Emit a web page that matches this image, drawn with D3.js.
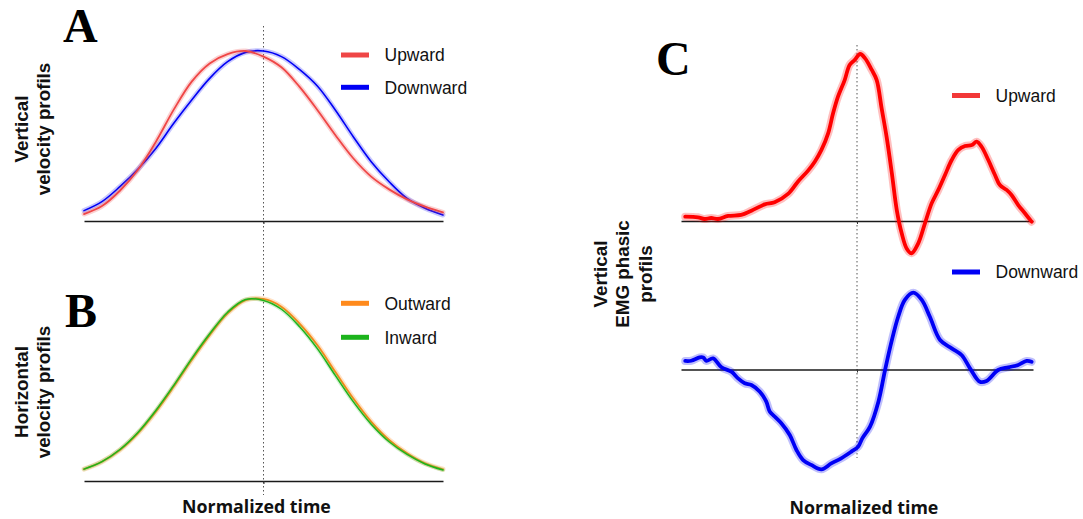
<!DOCTYPE html>
<html><head><meta charset="utf-8">
<script src="https://cdn.jsdelivr.net/npm/d3@7/dist/d3.min.js"></script>
<style>html,body{margin:0;background:#fff}svg{display:block}</style>
</head><body>
<svg id="chart" width="1083" height="519"></svg>
<script>
// ---------- DATA (normalized time 0..100, normalized amplitude) ----------
const timeAB = [0,5,10,15,20,25,30,35,40,45,50,55,60,65,70,75,80,85,90,95,100];
const upwardA   = [0.041,0.088,0.178,0.30,0.465,0.655,0.82,0.927,0.982,1.0,0.967,0.904,0.79,0.653,0.506,0.369,0.261,0.186,0.127,0.084,0.051];
const downwardA = [0.061,0.114,0.202,0.304,0.427,0.575,0.712,0.839,0.937,0.992,1.0,0.967,0.892,0.794,0.653,0.496,0.349,0.231,0.133,0.075,0.035];
const outwardB  = [0.065,0.105,0.169,0.26,0.378,0.515,0.66,0.796,0.915,0.987,0.993,0.951,0.86,0.742,0.596,0.451,0.324,0.224,0.151,0.096,0.064];
const inwardB   = [0.065,0.106,0.172,0.265,0.385,0.522,0.668,0.803,0.921,0.99,0.985,0.937,0.843,0.722,0.576,0.433,0.31,0.214,0.145,0.093,0.06];

const timeUpC = [1.2,4.8,6.7,8.6,10.5,13.4,17.1,20.0,23.8,26.6,30.4,33.2,36.1,38.0,39.9,41.8,43.2,44.6,46.5,47.9,49.3,50.9,52.3,54.2,55.6,57.0,58.4,59.9,61.3,62.7,64.1,65.5,67.4,69.3,71.2,73.1,75.0,76.9,78.8,80.7,82.6,84.0,85.4,87.3,89.2,90.6,92.5,93.9,95.8,97.7,99.6];
const upwardC = [0.026,0.022,0.012,0.018,0.012,0.030,0.036,0.061,0.099,0.111,0.161,0.234,0.300,0.353,0.423,0.522,0.641,0.740,0.839,0.929,0.958,0.994,0.968,0.899,0.839,0.670,0.502,0.284,0.065,-0.073,-0.163,-0.192,-0.133,-0.014,0.105,0.185,0.274,0.363,0.423,0.446,0.452,0.472,0.442,0.363,0.274,0.214,0.185,0.155,0.095,0.046,-0.004];

const timeDownC = [1.2,2.9,5.3,6.3,7.2,9.1,11.5,14.3,16.2,18.1,20.0,22.4,24.2,25.2,26.6,28.5,30.9,32.8,34.7,37.0,39.9,42.7,45.5,48.4,50.3,51.5,53.7,56.1,58.0,59.8,61.7,63.6,66.0,68.4,70.7,73.6,76.9,79.7,82.1,84.9,86.8,90.1,93.0,95.8,98.2,99.6];
const downwardC = [0.051,0.052,0.072,0.072,0.051,0.066,0.013,-0.013,-0.053,-0.082,-0.092,-0.132,-0.19,-0.25,-0.28,-0.32,-0.39,-0.479,-0.539,-0.568,-0.594,-0.559,-0.529,-0.489,-0.46,-0.41,-0.34,-0.19,0.0,0.166,0.314,0.414,0.457,0.414,0.314,0.176,0.126,0.086,0.007,-0.073,-0.068,-0.003,0.013,0.027,0.051,0.046];

const legendA = ["Upward","Downward"];
const legendB = ["Outward","Inward"];
const panelLetters = ["A","B","C"];
const xLabel = "Normalized time";
const yLabelA = ["Vertical","velocity profils"];
const yLabelB = ["Horizontal","velocity profils"];
const yLabelC = ["Vertical","EMG phasic","profils"];

// ---------- STYLE ----------
const RED_A = "#ef4646", BLUE = "#0000f5", ORANGE = "#ff8a1c", GREEN = "#1cb41c", RED_C = "#ff0000";
const svg = d3.select("#chart");
svg.append("rect").attr("width",1083).attr("height",519).attr("fill","#fff");

const xAB = d3.scaleLinear().domain([0,100]).range([84,443]);
const yA  = d3.scaleLinear().domain([0,1]).range([221,51]);
const yB  = d3.scaleLinear().domain([0,1]).range([481,297.7]);
const xC  = d3.scaleLinear().domain([0,100]).range([681,1033]);
const yCu = d3.scaleLinear().domain([0,1]).range([221,53]);
const yCd = d3.scaleLinear().domain([0,1]).range([369.5,201.5]);

function axis(x, y, yPos){
  const g = svg.append("g").attr("transform",`translate(0,${yPos})`)
    .call(d3.axisBottom(x).tickValues([50]).tickSize(3).tickSizeOuter(0).tickFormat(""));
  g.select(".domain").attr("stroke","#1a1a1a").attr("stroke-width",1.7);
  g.selectAll(".tick line").attr("stroke","#333").attr("stroke-width",1);
}
function series(xs, ys, x, y, color, w, bandW, bandOp, curve){
  const data = xs.map((t,i)=>[t,ys[i]]);
  const line = d3.line().x(d=>x(d[0])).y(d=>y(d[1])).curve(curve);
  svg.append("path").attr("d",line(data)).attr("fill","none").attr("stroke",color)
    .attr("stroke-width",bandW).attr("stroke-opacity",bandOp).attr("stroke-linejoin","round").attr("stroke-linecap","round");
  svg.append("path").attr("d",line(data)).attr("fill","none").attr("stroke",color)
    .attr("stroke-width",w).attr("stroke-linejoin","round").attr("stroke-linecap","round");
}
function dotted(x, y0, y1){
  svg.append("line").attr("x1",x).attr("x2",x).attr("y1",y0).attr("y2",y1)
    .attr("stroke","#555").attr("stroke-width",1).attr("stroke-dasharray","1.5,2.5");
}
function legendItem(x0, y0, color, text){
  svg.append("line").attr("x1",x0).attr("x2",x0+28).attr("y1",y0).attr("y2",y0)
    .attr("stroke",color).attr("stroke-width",5);
  svg.append("text").attr("x",x0+43.5).attr("y",y0+6.3).text(text)
    .attr("font-family","'Liberation Sans',Arial,sans-serif").attr("font-size",17.5).attr("fill","#111");
}
function yLabel(lines, baselines, cy){
  lines.forEach((s,i)=>{
    svg.append("text").attr("transform",`translate(${baselines[i]},${cy}) rotate(-90)`)
      .attr("text-anchor","middle").attr("font-family","'Liberation Sans',Arial,sans-serif")
      .attr("font-weight","bold").attr("font-size",18.8).attr("fill","#111").text(s);
  });
}
function letter(s, x, y){
  svg.append("text").attr("x",x).attr("y",y).text(s)
    .attr("font-family","'Liberation Serif','Times New Roman',serif").attr("font-weight","bold")
    .attr("font-size",48).attr("fill","#000");
}
function xTitle(cx, y){
  svg.append("text").attr("x",cx).attr("y",y).attr("text-anchor","middle").text(xLabel)
    .attr("font-family","'Open Sans',sans-serif").attr("font-weight","bold").attr("font-size",17.8).attr("fill","#111");
}

// dotted reference lines
dotted(xAB(50), 26, 495);
dotted(xC(50), 45, 458);

// Panel A
axis(xAB, yA, 221);
series(timeAB, downwardA, xAB, yA, BLUE, 1.6, 5, 0.22, d3.curveCatmullRom);
series(timeAB, upwardA, xAB, yA, RED_A, 1.8, 5, 0.25, d3.curveCatmullRom);
legendItem(341, 55, RED_A, legendA[0]);
legendItem(341, 87.3, BLUE, legendA[1]);
yLabel(yLabelA, [28, 50], 129);
letter(panelLetters[0], 63, 42);

// Panel B
axis(xAB, yB, 481);
series(timeAB, outwardB, xAB, yB, ORANGE, 1.8, 5, 0.25, d3.curveCatmullRom);
series(timeAB, inwardB, xAB, yB, GREEN, 1.5, 4, 0.2, d3.curveCatmullRom);
legendItem(341, 303.3, ORANGE, legendB[0]);
legendItem(341, 337.3, GREEN, legendB[1]);
yLabel(yLabelB, [28, 50], 392);
letter(panelLetters[1], 65, 327);
xTitle(256.5, 513);

// Panel C
axis(xC, yCu, 221);
axis(xC, yCd, 369.5);
series(timeUpC, upwardC, xC, yCu, RED_C, 3.8, 8, 0.25, d3.curveCatmullRom);
series(timeDownC, downwardC, xC, yCd, BLUE, 3.8, 8, 0.25, d3.curveCatmullRom);
legendItem(952, 95.5, "#f23838", "Upward");
legendItem(952, 272, BLUE, "Downward");
yLabel(yLabelC, [606.5, 629, 652], 274);
letter(panelLetters[2], 656, 75);
xTitle(864, 513.5);
</script>
</body></html>
